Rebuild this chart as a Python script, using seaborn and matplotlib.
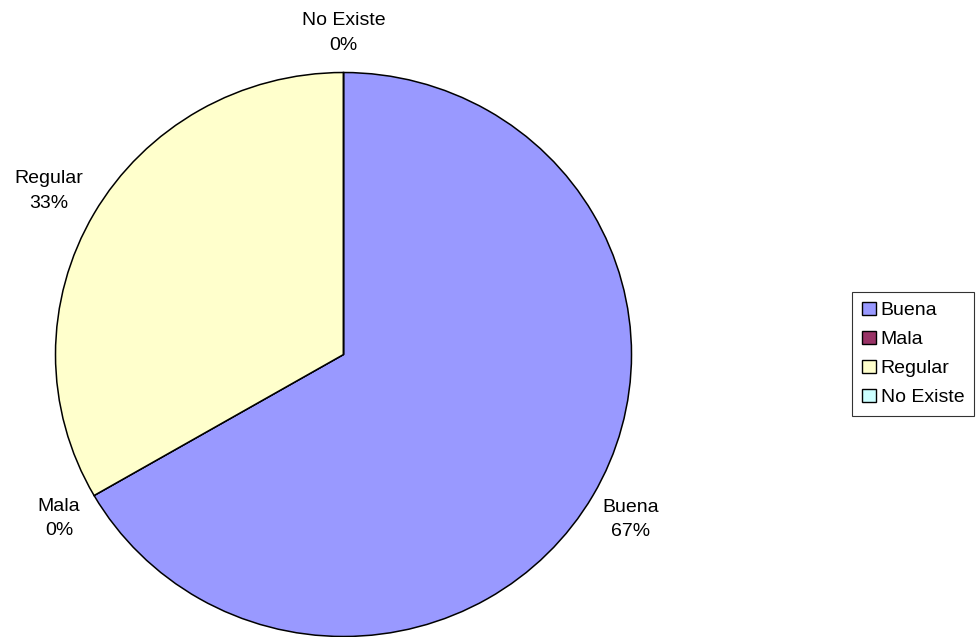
import matplotlib
matplotlib.use("Agg")
import matplotlib.pyplot as plt
from matplotlib.patches import Patch
from matplotlib.transforms import ScaledTranslation
import numpy as np
import seaborn as sns

# Survey answers and their counts
categories = ["Buena", "Mala", "Regular", "No Existe"]
counts = [2, 0, 1, 0]
slice_colors = ["#9999FF", "#993366", "#FFFFCC", "#CCFFFF"]

sns.set_theme(style="white")
plt.rcParams["font.family"] = ["Liberation Sans", "DejaVu Sans"]
plt.rcParams["text.color"] = "black"

palette = sns.color_palette(slice_colors)
total = sum(counts)
labels = [f"{name}\n{value / total:.0%}" for name, value in zip(categories, counts)]

# distance of each label from the centre, in radii (wider labels sit further out)
label_radius = [1.15, 1.14, 1.18, 1.15]

fig = plt.figure(figsize=(9.78, 6.37), dpi=100)
ax = fig.add_axes([0.05675, 0.000785, 0.58896, 0.8854])

wedges, _ = ax.pie(
    counts,
    colors=palette,
    startangle=90,
    counterclock=False,
    wedgeprops=dict(edgecolor="black", linewidth=1.1),
    normalize=True,
)

# nudge the two-line labels slightly down so the glyphs, not the boxes, are centred
nudge = ax.transData + ScaledTranslation(0, -3 / 100, fig.dpi_scale_trans)
for w, text, r in zip(wedges, labels, label_radius):
    mid = np.deg2rad((w.theta1 + w.theta2) / 2)
    ax.text(r * np.cos(mid), r * np.sin(mid), text, transform=nudge,
            ha="center", va="center", fontsize=14, color="black",
            linespacing=1.57)

ax.set_aspect("auto")
ax.set_xlim(-1, 1)
ax.set_ylim(-1, 1)
ax.axis("off")

handles = [Patch(facecolor=c, edgecolor="black", linewidth=1.0) for c in palette]
leg = fig.legend(
    handles, categories,
    loc="upper left",
    bbox_to_anchor=(852 / 978, 1 - 292 / 637),
    borderaxespad=0,
    fontsize=14,
    frameon=True,
    fancybox=False,
    shadow=False,
    handlelength=0.72,
    handleheight=0.67,
    handletextpad=0.26,
    labelspacing=0.6,
    borderpad=0.5,
    labelcolor="black",
)
frame = leg.get_frame()
frame.set_edgecolor("black")
frame.set_linewidth(0.8)
frame.set_facecolor("white")

fig.savefig("out.png", dpi=100, facecolor="white")
